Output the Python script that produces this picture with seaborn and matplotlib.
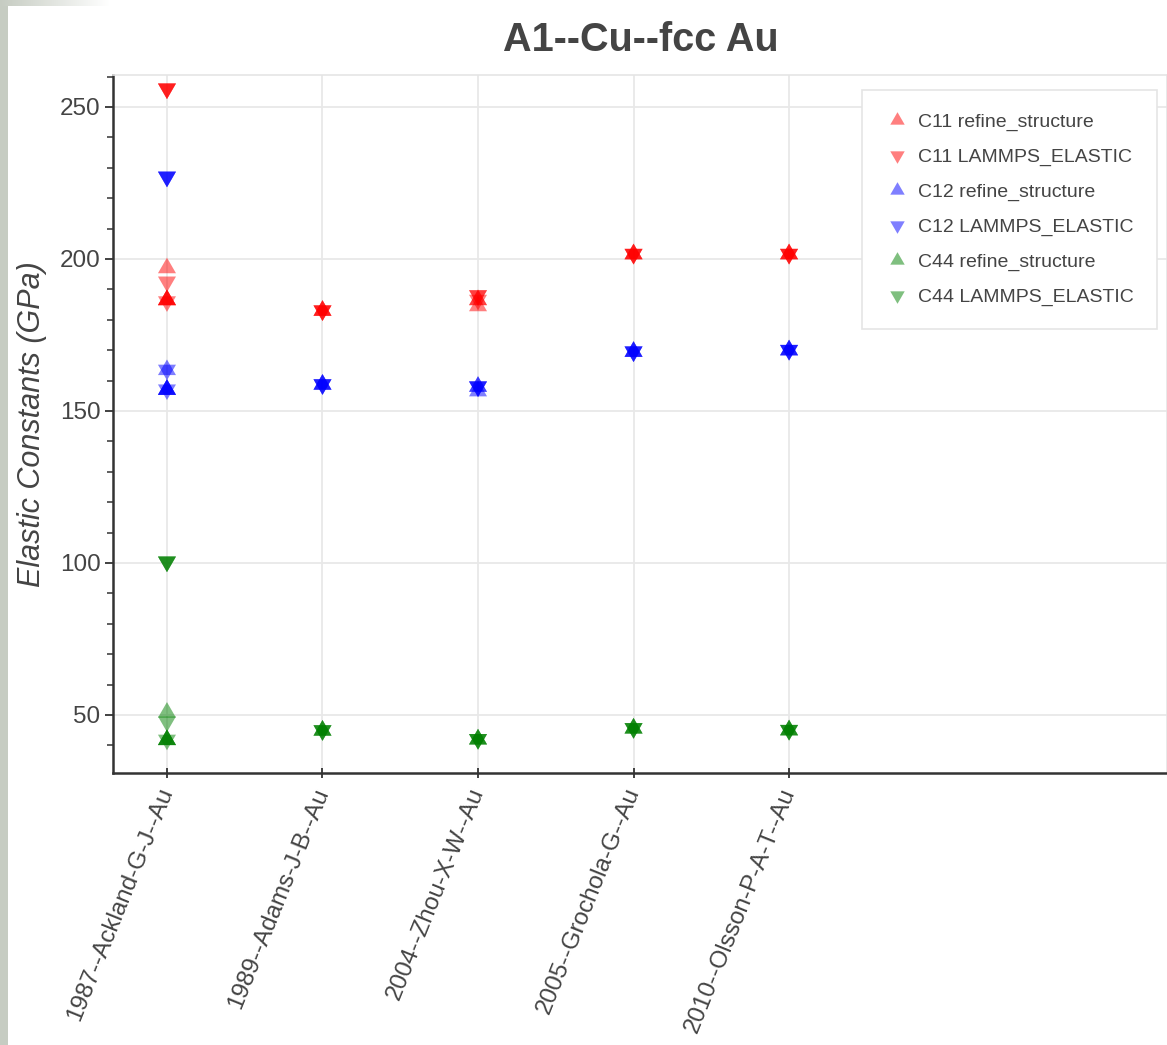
import matplotlib
matplotlib.use("Agg")
import matplotlib.pyplot as plt
from matplotlib.lines import Line2D
from matplotlib.patches import Rectangle
from matplotlib.ticker import MultipleLocator
import seaborn as sns
import pandas as pd
import numpy as np

# ---------------- data ----------------
potentials = ["1987--Ackland-G-J--Au", "1989--Adams-J-B--Au", "2004--Zhou-X-W--Au",
              "2005--Grochola-G--Au", "2010--Olsson-P-A-T--Au"]

# each series: potential index per point, value per point (overlapping implementations repeated)
c11_ref_pot = [0, 0, 0, 0, 0, 1, 1, 1, 2, 2, 2, 3, 3, 3, 4, 4, 4]
c11_ref_val = [186.5, 186.5, 186.5, 197.0, 186.5, 183.0, 183.0, 183.0, 186.5, 186.5, 184.5,
               201.6, 201.6, 201.6, 201.6, 201.6, 201.6]
c11_lmp_pot = [0, 0, 0, 0, 0, 1, 1, 1, 2, 2, 2, 3, 3, 3, 4, 4, 4]
c11_lmp_val = [256.0, 256.0, 256.0, 192.5, 186.0, 183.0, 183.0, 183.0, 188.0, 188.0, 186.5,
               201.6, 201.6, 201.6, 201.6, 201.6, 201.6]

c12_ref_pot = [0, 0, 0, 0, 0, 1, 1, 1, 2, 2, 2, 3, 3, 3, 4, 4, 4]
c12_ref_val = [157.0, 157.0, 157.0, 163.5, 157.0, 158.7, 158.7, 158.7, 158.0, 158.0, 156.5,
               169.5, 169.5, 169.5, 170.0, 170.0, 170.0]
c12_lmp_pot = [0, 0, 0, 0, 0, 1, 1, 1, 2, 2, 2, 3, 3, 3, 4, 4, 4]
c12_lmp_val = [227.0, 227.0, 227.0, 163.5, 157.0, 158.7, 158.7, 158.7, 158.0, 158.0, 158.0,
               169.5, 169.5, 169.5, 170.0, 170.0, 170.0]

c44_ref_pot = [0, 0, 0, 0, 0, 1, 1, 1, 2, 2, 2, 3, 3, 3, 4, 4, 4]
c44_ref_val = [41.8, 41.8, 41.8, 50.8, 41.8, 44.9, 44.9, 44.9, 42.0, 42.0, 42.0,
               45.6, 45.6, 45.6, 45.0, 45.0, 45.0]
c44_lmp_pot = [0, 0, 0, 0, 0, 1, 1, 1, 2, 2, 2, 3, 3, 3, 4, 4, 4]
c44_lmp_val = [100.4, 100.4, 100.4, 47.8, 41.8, 44.9, 44.9, 44.9, 42.0, 42.0, 42.0,
               45.6, 45.6, 45.6, 45.0, 45.0, 45.0]

series = [
    ("C11", "refine_structure", c11_ref_pot, c11_ref_val),
    ("C11", "LAMMPS_ELASTIC", c11_lmp_pot, c11_lmp_val),
    ("C12", "refine_structure", c12_ref_pot, c12_ref_val),
    ("C12", "LAMMPS_ELASTIC", c12_lmp_pot, c12_lmp_val),
    ("C44", "refine_structure", c44_ref_pot, c44_ref_val),
    ("C44", "LAMMPS_ELASTIC", c44_lmp_pot, c44_lmp_val),
]
colors = {"C11": "#ff0000", "C12": "#0000ff", "C44": "#008000"}

# centroid-centred triangles (so that an up and a down triangle form a hexagram)
tri_up = [(0.0, 1.0), (-0.866, -0.5), (0.866, -0.5), (0.0, 1.0)]
tri_down = [(0.0, -1.0), (0.866, 0.5), (-0.866, 0.5), (0.0, -1.0)]
markers = {"refine_structure": tri_up, "LAMMPS_ELASTIC": tri_down}

rows = []
for const, method, pots, vals in series:
    for p, v in zip(pots, vals):
        rows.append({"potential": potentials[p], "const": const, "method": method, "value": v})
df = pd.DataFrame(rows)
df["potential"] = pd.Categorical(df["potential"], categories=potentials, ordered=True)

# ---------------- plot ----------------
sns.set_theme(style="white")
plt.rcParams["font.family"] = ["Liberation Sans", "DejaVu Sans"]

W, H = 1167, 1045
fig = plt.figure(figsize=(W / 100, H / 100), dpi=100)
fig.patch.set_facecolor("white")
ax = fig.add_axes([113 / W, 1 - 773 / H, (1167 - 113) / W, (773 - 75) / H])

sns.scatterplot(data=df, x="potential", y="value", hue="const", style="method",
                palette=colors, markers=markers, s=225, alpha=0.5, linewidth=0,
                legend=False, ax=ax)

ax.set_xlim(-0.347, 6.43)
ax.set_ylim(30.9, 260.5)
ax.set_xticks(range(len(potentials)))
ax.set_xticklabels(potentials, rotation=68, ha="right", va="center",
                   rotation_mode="anchor", fontsize=17.5, color="#444444")
ax.yaxis.set_major_locator(MultipleLocator(50))
ax.yaxis.set_minor_locator(MultipleLocator(10))
ax.tick_params(axis="y", which="major", direction="out", length=6, width=1.3,
               color="#333333", labelsize=17.5, labelcolor="#444444", pad=3, left=True)
ax.tick_params(axis="y", which="minor", direction="out", length=4, width=1.1,
               color="#333333", left=True)
ax.tick_params(axis="x", which="major", direction="inout", length=7, width=1.3,
               color="#333333", pad=8, bottom=True)

ax.grid(True, which="major", color="#e8e8e8", linewidth=1.3)
ax.set_axisbelow(True)
for side in ["top", "right"]:
    ax.spines[side].set_color("#e5e5e5")
    ax.spines[side].set_linewidth(1.2)
for side in ["left", "bottom"]:
    ax.spines[side].set_color("#333333")
    ax.spines[side].set_linewidth(1.8)

ax.set_xlabel("")
ax.set_ylabel("Elastic Constants (GPa)", fontsize=22, style="italic", color="#444444")
ax.yaxis.set_label_coords(-(113 - 47) / (1167 - 113), 0.5)

fig.text(641 / W, 1 - 40 / H, "A1--Cu--fcc Au", ha="center", va="center",
         fontsize=28.5, fontweight="bold", color="#444444")

# legend
handles = []
labels = []
for const, method, _, _ in series:
    handles.append(Line2D([], [], linestyle="none", marker=markers[method],
                          markersize=12, markerfacecolor=colors[const],
                          markeredgewidth=0, alpha=0.5))
    labels.append(f"{const} {method}")
leg = fig.legend(handles, labels, loc="upper right",
                 bbox_to_anchor=(1157 / W, 1 - 90 / H), fontsize=14,
                 frameon=True, fancybox=False, framealpha=1, edgecolor="#e5e5e5",
                 labelspacing=0.88, handletextpad=0.5, handlelength=1.2,
                 borderpad=1.2, borderaxespad=0)
for t in leg.get_texts():
    t.set_color("#444444")
leg.get_frame().set_linewidth(1.2)

# screenshot border strip on the left and faint band at the top-left
fig.patches.append(Rectangle((0, 0), 8 / W, 1, transform=fig.transFigure,
                             facecolor="#c6ccc2", edgecolor="none", zorder=-1))
band = fig.add_axes([0, 1 - 6 / H, 110 / W, 6 / H])
band.imshow(np.linspace(0, 1, 100)[None, :], aspect="auto",
            cmap=matplotlib.colors.LinearSegmentedColormap.from_list("b", ["#c6ccc2", "#ffffff"]))
band.set_axis_off()

fig.savefig("out.png", dpi=100, facecolor="white")
